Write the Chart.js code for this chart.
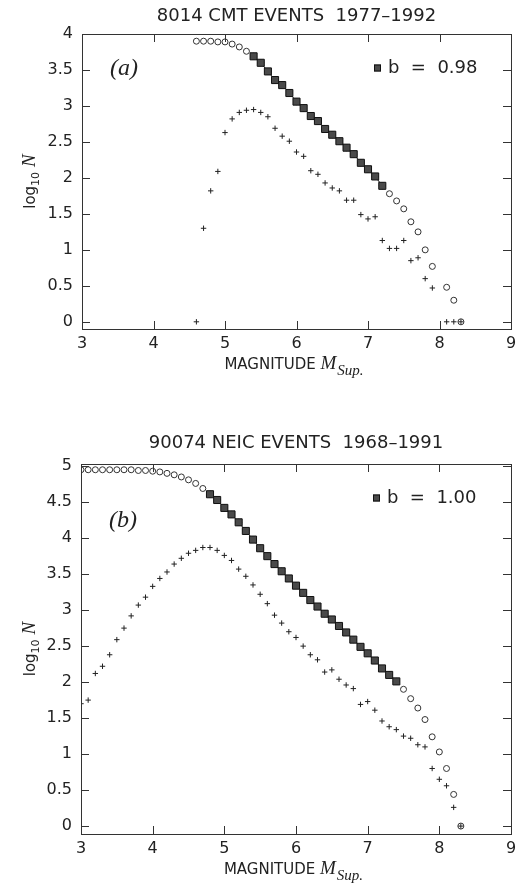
<!DOCTYPE html>
<html>
<head>
<meta charset="utf-8">
<script src="https://cdn.jsdelivr.net/npm/chart.js@4/dist/chart.umd.min.js"></script>
<style>
  html, body { margin: 0; padding: 0; background: #fff; }
  #wrap { position: relative; width: 517px; height: 889px; }
  canvas { position: absolute; left: 0; }
</style>
</head>
<body>
<div id="wrap">
  <canvas id="cmt" width="517" height="430" style="top:0px"></canvas>
  <canvas id="neic" width="517" height="459" style="top:430px"></canvas>
</div>
<script>
// ---- axis ticks ----
const magTicks = [3, 4, 5, 6, 7, 8, 9];
const cmtLogTicks = [0, 0.5, 1, 1.5, 2, 2.5, 3, 3.5, 4];
const neicLogTicks = [0, 0.5, 1, 1.5, 2, 2.5, 3, 3.5, 4, 4.5, 5];

// ---- CMT catalogue, 1977-1992 ----
// cumulative counts log10 N(>=M)
const cmtCumMag = [4.6, 4.7, 4.8, 4.9, 5.0, 5.1, 5.2, 5.3, 5.4, 5.5, 5.6, 5.7, 5.8, 5.9,
  6.0, 6.1, 6.2, 6.3, 6.4, 6.5, 6.6, 6.7, 6.8, 6.9, 7.0, 7.1, 7.2, 7.3, 7.4, 7.5, 7.6,
  7.7, 7.8, 7.9, 8.1, 8.2, 8.3];
const cmtCumLog = [3.90, 3.90, 3.90, 3.89, 3.89, 3.86, 3.82, 3.76, 3.69, 3.60, 3.48, 3.36,
  3.29, 3.18, 3.06, 2.97, 2.86, 2.79, 2.68, 2.60, 2.51, 2.42, 2.33, 2.21, 2.12, 2.02, 1.89,
  1.78, 1.68, 1.57, 1.39, 1.25, 1.00, 0.77, 0.48, 0.30, 0.00];
// per-bin counts log10 N(M)
const cmtBinMag = [4.6, 4.7, 4.8, 4.9, 5.0, 5.1, 5.2, 5.3, 5.4, 5.5, 5.6, 5.7, 5.8, 5.9,
  6.0, 6.1, 6.2, 6.3, 6.4, 6.5, 6.6, 6.7, 6.8, 6.9, 7.0, 7.1, 7.2, 7.3, 7.4, 7.5, 7.6,
  7.7, 7.8, 7.9, 8.1, 8.2, 8.3];
const cmtBinLog = [0.00, 1.30, 1.82, 2.09, 2.63, 2.82, 2.91, 2.94, 2.95, 2.91, 2.85, 2.69,
  2.58, 2.51, 2.36, 2.30, 2.10, 2.05, 1.93, 1.86, 1.82, 1.69, 1.69, 1.49, 1.43, 1.46, 1.13,
  1.02, 1.02, 1.13, 0.85, 0.89, 0.60, 0.47, 0.00, 0.00, 0.00];
const cmtFitRange = [5.4, 7.2];
const cmtB = '0.98';

// ---- NEIC catalogue, 1968-1991 ----
const neicCumMag = [3.0, 3.1, 3.2, 3.3, 3.4, 3.5, 3.6, 3.7, 3.8, 3.9,
  4.0, 4.1, 4.2, 4.3, 4.4, 4.5, 4.6, 4.7, 4.8, 4.9,
  5.0, 5.1, 5.2, 5.3, 5.4, 5.5, 5.6, 5.7, 5.8, 5.9,
  6.0, 6.1, 6.2, 6.3, 6.4, 6.5, 6.6, 6.7, 6.8, 6.9,
  7.0, 7.1, 7.2, 7.3, 7.4, 7.5, 7.6, 7.7, 7.8, 7.9,
  8.0, 8.1, 8.2, 8.3];
const neicCumLog = [4.95, 4.95, 4.95, 4.95, 4.95, 4.95, 4.95, 4.95, 4.94, 4.94,
  4.93, 4.92, 4.90, 4.88, 4.85, 4.81, 4.76, 4.69, 4.61, 4.53,
  4.42, 4.33, 4.22, 4.10, 3.98, 3.86, 3.75, 3.64, 3.54, 3.44,
  3.34, 3.24, 3.14, 3.05, 2.95, 2.87, 2.78, 2.69, 2.59, 2.49,
  2.40, 2.30, 2.19, 2.10, 2.01, 1.90, 1.77, 1.64, 1.48, 1.24,
  1.03, 0.80, 0.44, 0.00];
const neicBinMag = neicCumMag;
const neicBinLog = [1.70, 1.75, 2.12, 2.22, 2.38, 2.59, 2.75, 2.92, 3.07, 3.18,
  3.33, 3.44, 3.53, 3.64, 3.72, 3.79, 3.83, 3.87, 3.87, 3.83,
  3.76, 3.69, 3.57, 3.47, 3.35, 3.22, 3.09, 2.93, 2.82, 2.70,
  2.62, 2.50, 2.38, 2.31, 2.14, 2.17, 2.04, 1.96, 1.91, 1.69,
  1.73, 1.61, 1.46, 1.38, 1.34, 1.25, 1.22, 1.13, 1.10, 0.80,
  0.65, 0.56, 0.26, 0.00];
const neicFitRange = [4.8, 7.4];
const neicB = '1.00';

const INK = '#222';
const SANS = '"DejaVu Sans", sans-serif';
const SERIF = '"Liberation Serif", "DejaVu Serif", serif';

// Frame, inward tick marks and all annotation text of one panel.
const panelDecor = {
  id: 'panelDecor',
  afterDraw(chart, args, o) {
    const { ctx, chartArea: a, scales: { x, y } } = chart;
    ctx.save();
    ctx.strokeStyle = '#333';
    ctx.lineWidth = 1;
    ctx.strokeRect(Math.round(a.left) + 0.5, Math.round(a.top) + 0.5,
      Math.round(a.right - a.left), Math.round(a.bottom - a.top));
    const seg = (x1, y1, x2, y2) => { ctx.beginPath(); ctx.moveTo(x1, y1); ctx.lineTo(x2, y2); ctx.stroke(); };
    const tl = 8;
    x.ticks.forEach(t => {
      const px = Math.round(x.getPixelForValue(t.value)) + 0.5;
      seg(px, a.bottom, px, a.bottom - tl);
      seg(px, a.top, px, a.top + tl);
    });
    y.ticks.forEach(t => {
      const py = Math.round(y.getPixelForValue(t.value)) + 0.5;
      seg(a.left, py, a.left + tl, py);
      seg(a.right, py, a.right - tl, py);
    });

    ctx.fillStyle = INK;
    // title
    ctx.font = '18px ' + SANS;
    ctx.textAlign = 'center';
    ctx.textBaseline = 'middle';
    ctx.fillText(o.title, (a.left + a.right) / 2, o.titleY);

    // panel label
    ctx.font = 'italic 24px ' + SERIF;
    ctx.textAlign = 'left';
    ctx.fillText(o.panel, a.left + 28, a.top + o.panelDy);

    // fit legend
    const ly = a.top + 34;
    ctx.fillStyle = '#4a4a4a';
    ctx.strokeStyle = '#111';
    ctx.fillRect(a.left + 292, ly - 3.5, 7, 7);
    ctx.strokeRect(a.left + 292 + 0.5, ly - 3.5 + 0.5, 6, 6);
    ctx.fillStyle = INK;
    ctx.font = '18px ' + SANS;
    ctx.fillText('b  =  ' + o.b, a.left + 306, ly);

    // x axis title: MAGNITUDE M_Sup.
    ctx.textBaseline = 'alphabetic';
    const f1 = '15px ' + SANS, f2 = 'italic 19px ' + SERIF, f3 = 'italic 15px ' + SERIF;
    ctx.font = f1; const w1 = ctx.measureText('MAGNITUDE ').width;
    ctx.font = f2; const w2 = ctx.measureText('M').width;
    ctx.font = f3; const w3 = ctx.measureText('Sup.').width;
    let sx = (a.left + a.right) / 2 - 3 - (w1 + w2 + w3) / 2;
    const by = a.bottom + 40;
    ctx.font = f1; ctx.fillText('MAGNITUDE ', sx, by);
    ctx.font = f2; ctx.fillText('M', sx + w1, by);
    ctx.font = f3; ctx.fillText('Sup.', sx + w1 + w2 + 1, by + 6);

    // y axis title: log10 N
    ctx.save();
    ctx.translate(o.yTitleX, (a.top + a.bottom) / 2);
    ctx.rotate(-Math.PI / 2);
    const g1 = '15px ' + SANS, g2 = '11px ' + SANS, g3 = 'italic 19px ' + SERIF;
    ctx.font = g1; const v1 = ctx.measureText('log').width;
    ctx.font = g2; const v2 = ctx.measureText('10').width;
    ctx.font = g3; const v3 = ctx.measureText('N').width;
    let tx = -(v1 + v2 + 5 + v3) / 2;
    ctx.font = g1; ctx.fillText('log', tx, 5);
    ctx.font = g2; ctx.fillText('10', tx + v1, 9);
    ctx.font = g3; ctx.fillText('N', tx + v1 + v2 + 5, 5);
    ctx.restore();

    ctx.restore();
  }
};

function buildPanel(id, d) {
  const cum = d.cumMag.map((m, i) => ({ x: m, y: d.cumLog[i] }));
  const fit = cum.filter(p => p.x >= d.fitRange[0] - 1e-9 && p.x <= d.fitRange[1] + 1e-9);
  const bins = d.binMag.map((m, i) => ({ x: m, y: d.binLog[i] }));
  return new Chart(document.getElementById(id), {
    type: 'scatter',
    data: {
      datasets: [
        { label: 'fit', data: fit, pointStyle: 'rect', pointRadius: 5, backgroundColor: '#4a4a4a',
          borderColor: '#111', borderWidth: 1, showLine: true },
        { label: 'cumulative', data: cum, pointStyle: 'circle', pointRadius: 3,
          backgroundColor: 'rgba(0,0,0,0)', borderColor: '#333', borderWidth: 1 },
        { label: 'binned', data: bins, pointStyle: 'cross', pointRadius: 2.7,
          borderColor: '#222', borderWidth: 1 }
      ]
    },
    options: {
      responsive: false,
      animation: false,
      events: [],
      layout: { padding: { top: 34, right: 3, left: 0, bottom: 0 } },
      plugins: {
        legend: { display: false },
        tooltip: { enabled: false },
        panelDecor: d.decor
      },
      scales: {
        x: {
          type: 'linear', min: 3, max: 9,
          grid: { display: false, drawTicks: false },
          border: { display: false },
          ticks: { font: { family: SANS, size: 16 }, color: INK, padding: 5,
                   callback: v => String(v) },
          afterBuildTicks: s => { s.ticks = magTicks.map(v => ({ value: v })); },
          afterFit: s => { s.height = d.xHeight; s.paddingLeft = 0; s.paddingRight = 0; }
        },
        y: {
          type: 'linear', min: d.yMin, max: d.yMax,
          grid: { display: false, drawTicks: false },
          border: { display: false },
          ticks: { font: { family: SANS, size: 16 }, color: INK, padding: 9,
                   callback: v => String(v) },
          afterBuildTicks: s => { s.ticks = d.yTicks.map(v => ({ value: v })); },
          afterFit: s => { s.width = d.left; s.paddingTop = 0; s.paddingBottom = 0; }
        }
      }
    },
    plugins: [panelDecor]
  });
}

buildPanel('cmt', {
  cumMag: cmtCumMag, cumLog: cmtCumLog, binMag: cmtBinMag, binLog: cmtBinLog,
  fitRange: cmtFitRange, yTicks: cmtLogTicks, yMin: -0.1, yMax: 4,
  left: 82, xHeight: 101,
  decor: { title: '8014 CMT EVENTS  1977\u20131992', titleY: 16, panel: '(a)', panelDy: 35,
           b: cmtB, yTitleX: 30 }
});

buildPanel('neic', {
  cumMag: neicCumMag, cumLog: neicCumLog, binMag: neicBinMag, binLog: neicBinLog,
  fitRange: neicFitRange, yTicks: neicLogTicks, yMin: -0.11, yMax: 5.03,
  left: 81, xHeight: 55,
  decor: { title: '90074 NEIC EVENTS  1968\u20131991', titleY: 13, panel: '(b)', panelDy: 57,
           b: neicB, yTitleX: 30 }
});
</script>
</body>
</html>
